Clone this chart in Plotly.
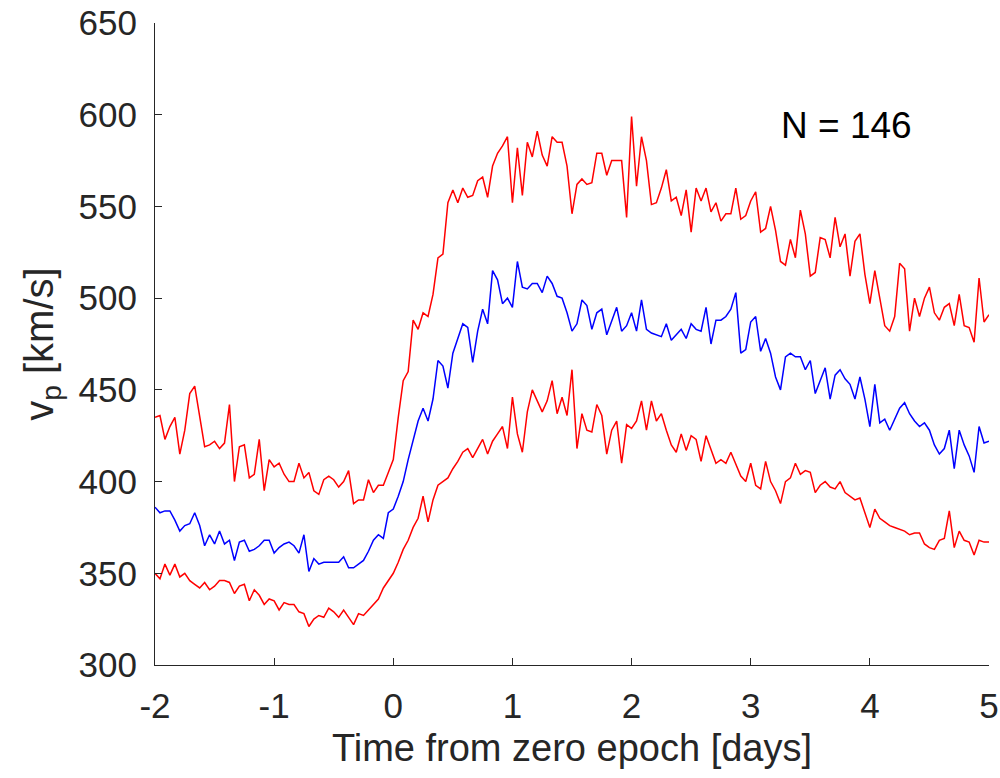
import numpy as np
import plotly.graph_objects as go

# hourly samples from -2 to +5 days (169 points)
n_points = 169
time_days = [-2 + i / 24 for i in range(n_points)]

upper_red = [
    435, 436, 423, 430, 435, 415, 428, 448, 452, 435, 419, 420, 422, 418, 421, 442, 400, 419, 420, 402, 404, 423, 395, 412, 408, 410, 404, 400,
    400, 410, 402, 405, 395, 393, 401, 403, 401, 397, 400, 406, 388, 390, 390, 401, 394, 398, 398, 405,
    412, 435, 455, 460, 488, 483, 492, 490, 502, 522, 524, 552, 559, 552, 560, 555, 556, 564, 566, 555, 572, 579, 583, 588,
    552, 582, 556, 585, 577, 591, 578, 572, 588, 585, 585, 572, 546, 562, 565, 562, 563, 579, 579, 567, 575, 575, 575, 544,
    599, 561, 588, 575, 551, 552, 560, 570, 553, 555, 545, 559, 536, 560, 553,
    560, 547, 552, 542, 546, 546, 560, 543, 545, 553, 558, 536, 538, 550, 537, 520, 518, 532, 522, 548, 535, 512, 514, 533, 532, 522, 544, 528, 535,
    512, 531, 535, 513, 497, 515, 499, 485, 482, 490, 519, 516, 482, 500, 490, 500, 506, 492, 488, 495, 497, 485, 502, 485, 484, 476, 511, 487, 491,
]

median_blue = [
    386, 383, 384, 384, 379, 373, 376, 377, 383, 376, 365, 371, 366, 373, 366, 368, 357, 367, 368, 362, 363, 365, 368, 368, 361, 364, 366, 367,
    365, 361, 371, 351, 358, 355, 356, 356, 356, 356, 359, 353, 353, 355, 357, 362, 368, 371, 369, 383,
    385, 392, 400, 412, 422, 433, 440, 433, 445, 466, 463, 451, 470, 478, 486, 484, 465, 482, 494, 486, 515, 510, 497, 500,
    495, 520, 506, 505, 508, 508, 503, 512, 508, 501, 500, 492, 482, 486, 499, 496, 483, 492, 494, 480, 488, 495, 482, 485,
    492, 482, 499, 483, 481, 480, 479, 486, 477, 480, 483, 478, 486, 483, 482,
    495, 475, 488, 488, 490, 494, 503, 470, 472, 487, 490, 471, 478, 470, 457, 450, 468, 470, 468, 468, 461, 466, 448, 455, 462, 445, 458, 461, 456,
    453, 445, 457, 445, 430, 453, 432, 434, 428, 434, 440, 443, 437, 433, 430, 432, 428, 420, 415, 418, 428, 407, 428, 420, 414, 405, 430, 421, 422,
]

lower_red = [
    350, 347, 355, 349, 355, 348, 350, 346, 344, 342, 345, 341, 343, 346, 346, 345, 339, 343, 344, 335, 341, 338, 333, 336, 335, 330, 334, 333,
    333, 329, 328, 321, 325, 327, 326, 331, 329, 326, 330, 326, 322, 328, 327, 330, 333, 336, 342, 346, 350, 356, 363, 368, 375, 380,
    392, 378, 390, 398, 400, 402, 407, 411, 416, 418, 413, 418, 423, 415, 422, 426,
    430, 418, 446, 426, 416, 438, 450, 444, 438, 444, 455, 437, 446, 436, 461, 418, 437, 428, 427, 442, 436, 415, 428, 433, 410, 431,
    429, 433, 444, 428, 444, 433, 437, 428, 420, 416, 426, 417, 425, 423, 411,
    425, 418, 410, 412, 410, 416, 410, 403, 400, 410, 398, 396, 411, 400, 395, 388, 400, 402, 410, 404, 406, 405, 394, 398, 400, 397, 396, 400, 394,
    392, 390, 391, 383, 375, 385, 380, 378, 376, 375, 374, 373, 371, 372, 372, 366, 364, 363, 368, 369, 384, 364, 373, 368, 367, 360, 368, 367, 367,
]

x_ticks = [-2, -1, 0, 1, 2, 3, 4, 5]
y_ticks = [300, 350, 400, 450, 500, 550, 600, 650]
n_events = 146

FONT = "Liberation Sans, Arial, Helvetica, sans-serif"
AX = "#262626"

fig = go.Figure()
for vals, col in [(upper_red, "#FF0000"), (median_blue, "#0000FF"), (lower_red, "#FF0000")]:
    fig.add_trace(go.Scatter(x=time_days, y=vals, mode="lines",
                             line=dict(color=col, width=1.5), showlegend=False,
                             hoverinfo="skip"))

fig.add_annotation(x=3.8, y=594, xref="x", yref="y", text=f"N = {n_events}",
                   showarrow=False, font=dict(family=FONT, size=37, color="black"))

fig.update_layout(
    width=1000, height=778,
    margin=dict(l=155, r=11, t=23, b=113),
    paper_bgcolor="white", plot_bgcolor="white",
    font=dict(family=FONT, color=AX),
)
fig.update_xaxes(
    range=[-2, 5], tickvals=x_ticks, ticktext=[str(v) for v in x_ticks],
    showgrid=False, zeroline=False, showline=True, linecolor=AX, linewidth=1,
    ticks="inside", ticklen=7, tickcolor=AX, tickwidth=1, automargin=False,
    tickfont=dict(family=FONT, size=35, color=AX), ticklabelstandoff=10,
    title=dict(text="Time from zero epoch [days]", font=dict(family=FONT, size=38, color=AX), standoff=10),
)
fig.update_yaxes(
    range=[300, 650], tickvals=y_ticks, ticktext=[str(v) for v in y_ticks],
    showgrid=False, zeroline=False, showline=True, linecolor=AX, linewidth=1,
    ticks="inside", ticklen=7, tickcolor=AX, tickwidth=1, automargin=False,
    tickfont=dict(family=FONT, size=35, color=AX), ticklabelstandoff=10,
    title=dict(text="v<sub>p</sub> [km/s]", font=dict(family=FONT, size=40, color=AX), standoff=12),
)

fig.write_html("out.html", config={"displayModeBar": False},
               post_script="document.body.style.margin='0px';")
